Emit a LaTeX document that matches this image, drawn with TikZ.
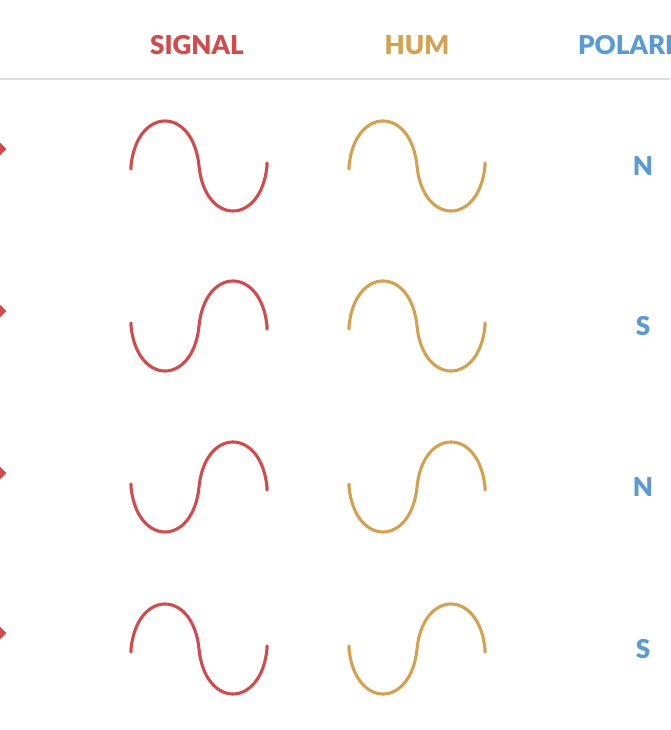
\documentclass[tikz,border=0pt]{standalone}
\usepackage{fontspec}
\setmainfont{Lato}[BoldFont={Lato Black}]
\usepackage{xcolor}
\usetikzlibrary{shapes,positioning}

\definecolor{sigred}{HTML}{D04C4C}
\definecolor{humgold}{HTML}{D4A150}
\definecolor{polblue}{HTML}{5A9BD5}
\definecolor{rulegray}{HTML}{DEDEDE}

\tikzset{
    head/.style={font=\fontsize{26}{30}\selectfont\bfseries, inner sep=0pt},
    pole/.style={font=\fontsize{26}{30}\selectfont\bfseries, text=polblue, inner sep=0pt},
    wave/.style={line width=3.1pt, line cap=round},
    tip/.style={fill=sigred, diamond, minimum width=13pt, minimum height=13pt, inner sep=0pt}
}

% one period, #1 = start point
\newcommand{\updown}[1]{(#1) ++(0,-3) -- ++(0,3)
    .. controls ++(6,60) and ++(-6,60) .. ++(68,0)
    .. controls ++(6,-60) and ++(-6,-60) .. ++(68,0) -- ++(0,3)}
\newcommand{\downup}[1]{(#1) ++(0,3) -- ++(0,-3)
    .. controls ++(6,-60) and ++(-6,-60) .. ++(68,0)
    .. controls ++(6,60) and ++(-6,60) .. ++(68,0) -- ++(0,-3)}

\begin{document}
\begin{tikzpicture}[x=1pt, y=1pt]
        \useasboundingbox (0,0) rectangle (670,730);
        \fill[white] (0,0) rectangle (670,730);
        \clip (0,0) rectangle (670,730);

        % column heads
        \node[head, text=sigred] (signal) at (197,685) {SIGNAL};
        \node[head, text=humgold] (hum) at (417,685) {HUM};
        \node[head, text=polblue, anchor=west] (polarity) at (578,685) {POLARITY};
        \draw[rulegray, line width=1.5pt] (0,651) -- (670,651);

        % row 1
        \node[tip] (tip1) at (0,581) {};
        \draw[wave, sigred] \updown{131,564};
        \draw[wave, humgold] \updown{349,564};
        \node[pole] (pol1) at (643,564) {N};

        % row 2
        \node[tip] (tip2) at (0,419) {};
        \draw[wave, sigred] \downup{131,404};
        \draw[wave, humgold] \updown{349,404};
        \node[pole] (pol2) at (643,404) {S};

        % row 3
        \node[tip] (tip3) at (0,257) {};
        \draw[wave, sigred] \downup{131,243};
        \draw[wave, humgold] \downup{349,243};
        \node[pole] (pol3) at (643,243) {N};

        % row 4
        \node[tip] (tip4) at (0,97) {};
        \draw[wave, sigred] \updown{131,81};
        \draw[wave, humgold] \downup{349,81};
        \node[pole] (pol4) at (643,81) {S};

    \end{tikzpicture}
\end{document}
